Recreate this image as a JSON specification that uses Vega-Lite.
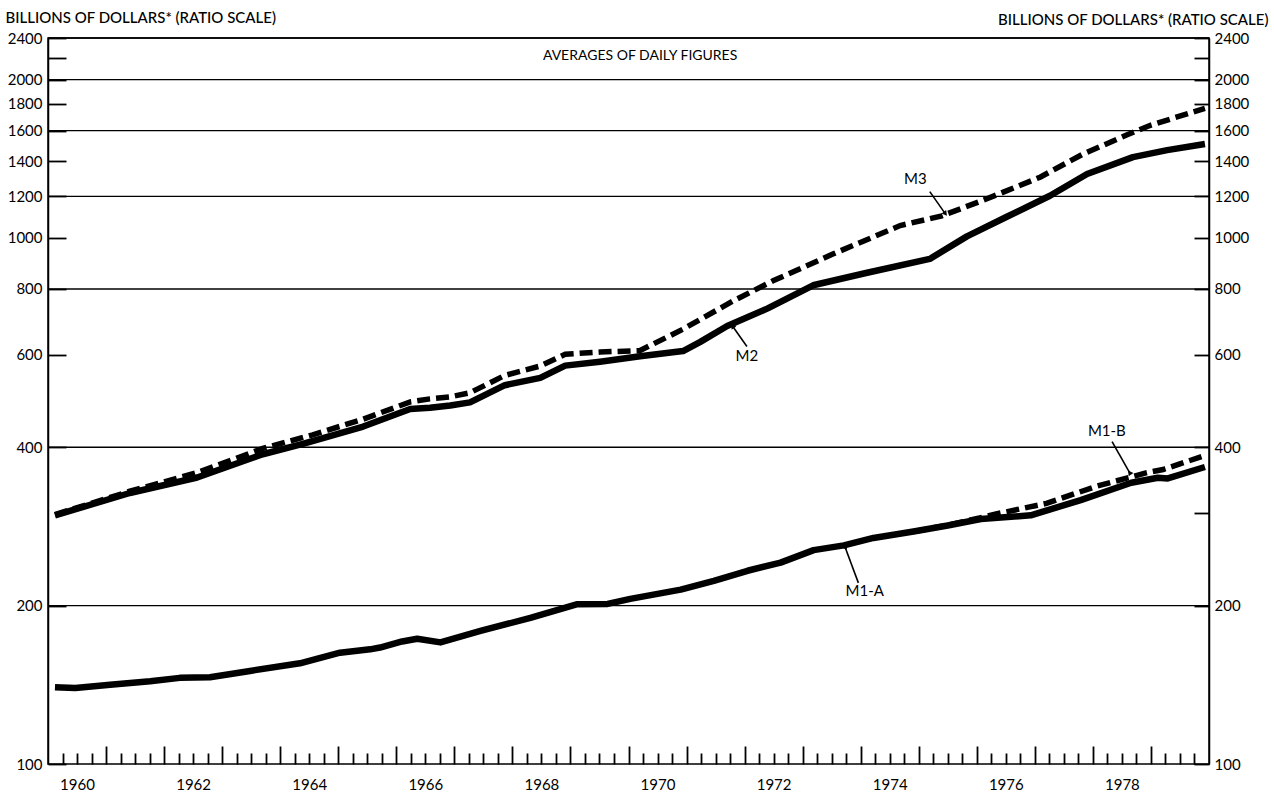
{
  "$schema": "https://vega.github.io/schema/vega-lite/v6.json",
  "width": 1161,
  "height": 726,
  "autosize": {"type": "none"},
  "padding": {"left": 48, "top": 38, "right": 65, "bottom": 29},
  "background": "white",
  "config": {
    "font": "Lato",
    "view": {"stroke": "black", "strokeWidth": 1.5},
    "axis": {
      "domainColor": "black",
      "domainWidth": 1.5,
      "tickColor": "black",
      "tickWidth": 1.8,
      "labelColor": "black",
      "labelFont": "Lato",
      "labelFontSize": 15,
      "titleColor": "black",
      "titleFont": "Lato",
      "titleFontSize": 15,
      "titleFontWeight": 500,
      "grid": false,
      "labelOverlap": false,
      "labelBound": false
    }
  },
  "datasets": {
    "grid": [
      {"value": 200}, {"value": 400}, {"value": 800}, {"value": 1200},
      {"value": 1600}, {"value": 2000}, {"value": 2400}
    ],
    "money": [
      {"series": "M1-A", "year": 1960.12, "value": 140},
      {"series": "M1-A", "year": 1960.47, "value": 139.5},
      {"series": "M1-A", "year": 1961.07, "value": 141.5},
      {"series": "M1-A", "year": 1961.76, "value": 143.7},
      {"series": "M1-A", "year": 1962.27, "value": 145.8},
      {"series": "M1-A", "year": 1962.79, "value": 146.2},
      {"series": "M1-A", "year": 1963.48, "value": 150.3},
      {"series": "M1-A", "year": 1964.34, "value": 155.4},
      {"series": "M1-A", "year": 1965.03, "value": 162.8},
      {"series": "M1-A", "year": 1965.55, "value": 165.2},
      {"series": "M1-A", "year": 1965.72, "value": 166.5},
      {"series": "M1-A", "year": 1966.1, "value": 171},
      {"series": "M1-A", "year": 1966.36, "value": 173},
      {"series": "M1-A", "year": 1966.76, "value": 170.3},
      {"series": "M1-A", "year": 1967.45, "value": 179},
      {"series": "M1-A", "year": 1968.31, "value": 189.6},
      {"series": "M1-A", "year": 1969.12, "value": 201.3},
      {"series": "M1-A", "year": 1969.64, "value": 201.5},
      {"series": "M1-A", "year": 1970.03, "value": 206},
      {"series": "M1-A", "year": 1970.9, "value": 214.5},
      {"series": "M1-A", "year": 1971.47, "value": 223},
      {"series": "M1-A", "year": 1972.05, "value": 233},
      {"series": "M1-A", "year": 1972.62, "value": 241.5},
      {"series": "M1-A", "year": 1973.19, "value": 255},
      {"series": "M1-A", "year": 1973.71, "value": 260.4},
      {"series": "M1-A", "year": 1974.22, "value": 269},
      {"series": "M1-A", "year": 1974.91, "value": 276.6},
      {"series": "M1-A", "year": 1975.5, "value": 284},
      {"series": "M1-A", "year": 1976.07, "value": 292.3},
      {"series": "M1-A", "year": 1976.93, "value": 297},
      {"series": "M1-A", "year": 1977.79, "value": 317.5},
      {"series": "M1-A", "year": 1978.66, "value": 342.5},
      {"series": "M1-A", "year": 1979.12, "value": 350},
      {"series": "M1-A", "year": 1979.29, "value": 349},
      {"series": "M1-A", "year": 1979.93, "value": 367},
      {"series": "M1-B", "year": 1974.91, "value": 276.6},
      {"series": "M1-B", "year": 1975.5, "value": 284.5},
      {"series": "M1-B", "year": 1976.07, "value": 294},
      {"series": "M1-B", "year": 1976.35, "value": 299},
      {"series": "M1-B", "year": 1977.2, "value": 313},
      {"series": "M1-B", "year": 1978.07, "value": 337.5},
      {"series": "M1-B", "year": 1978.93, "value": 358},
      {"series": "M1-B", "year": 1979.21, "value": 363},
      {"series": "M1-B", "year": 1979.93, "value": 386},
      {"series": "M2", "year": 1960.12, "value": 297},
      {"series": "M2", "year": 1961.41, "value": 327.5},
      {"series": "M2", "year": 1962.57, "value": 350.5},
      {"series": "M2", "year": 1963.7, "value": 388},
      {"series": "M2", "year": 1964.39, "value": 406},
      {"series": "M2", "year": 1965.43, "value": 438},
      {"series": "M2", "year": 1966.24, "value": 473},
      {"series": "M2", "year": 1966.58, "value": 475.5},
      {"series": "M2", "year": 1966.93, "value": 480.5},
      {"series": "M2", "year": 1967.27, "value": 487},
      {"series": "M2", "year": 1967.87, "value": 525},
      {"series": "M2", "year": 1968.48, "value": 542},
      {"series": "M2", "year": 1968.91, "value": 572},
      {"series": "M2", "year": 1969.51, "value": 582},
      {"series": "M2", "year": 1970.2, "value": 596},
      {"series": "M2", "year": 1970.94, "value": 609.5},
      {"series": "M2", "year": 1971.23, "value": 634},
      {"series": "M2", "year": 1971.7, "value": 680.5},
      {"series": "M2", "year": 1972.39, "value": 734},
      {"series": "M2", "year": 1973.18, "value": 813},
      {"series": "M2", "year": 1974.11, "value": 859},
      {"series": "M2", "year": 1975.19, "value": 912.5},
      {"series": "M2", "year": 1975.83, "value": 1007},
      {"series": "M2", "year": 1976.5, "value": 1095},
      {"series": "M2", "year": 1977.26, "value": 1203},
      {"series": "M2", "year": 1977.9, "value": 1323},
      {"series": "M2", "year": 1978.69, "value": 1425},
      {"series": "M2", "year": 1979.28, "value": 1469},
      {"series": "M2", "year": 1979.93, "value": 1509},
      {"series": "M3", "year": 1960.12, "value": 298},
      {"series": "M3", "year": 1961.41, "value": 330},
      {"series": "M3", "year": 1962.57, "value": 358},
      {"series": "M3", "year": 1963.7, "value": 398},
      {"series": "M3", "year": 1964.56, "value": 422.5},
      {"series": "M3", "year": 1965.43, "value": 452.5},
      {"series": "M3", "year": 1966.24, "value": 488},
      {"series": "M3", "year": 1966.58, "value": 494.5},
      {"series": "M3", "year": 1966.93, "value": 499},
      {"series": "M3", "year": 1967.27, "value": 508},
      {"series": "M3", "year": 1967.87, "value": 548},
      {"series": "M3", "year": 1968.48, "value": 571},
      {"series": "M3", "year": 1968.91, "value": 601},
      {"series": "M3", "year": 1969.51, "value": 607},
      {"series": "M3", "year": 1970.2, "value": 611},
      {"series": "M3", "year": 1970.94, "value": 671},
      {"series": "M3", "year": 1971.8, "value": 759},
      {"series": "M3", "year": 1972.49, "value": 829},
      {"series": "M3", "year": 1973.52, "value": 932},
      {"series": "M3", "year": 1974.68, "value": 1056},
      {"series": "M3", "year": 1975.4, "value": 1102},
      {"series": "M3", "year": 1976.11, "value": 1180},
      {"series": "M3", "year": 1976.4, "value": 1215},
      {"series": "M3", "year": 1977.09, "value": 1305},
      {"series": "M3", "year": 1977.83, "value": 1444},
      {"series": "M3", "year": 1978.59, "value": 1571},
      {"series": "M3", "year": 1978.98, "value": 1636},
      {"series": "M3", "year": 1979.55, "value": 1712},
      {"series": "M3", "year": 1979.93, "value": 1764}
    ],
    "labels": [
      {"label": "M3", "year": 1974.94, "value": 1296},
      {"label": "M2", "year": 1972.04, "value": 596},
      {"label": "M1-A", "year": 1974.07, "value": 213},
      {"label": "M1-B", "year": 1978.24, "value": 430}
    ],
    "arrows": [
      {"label": "M3", "year": 1975.19, "value": 1225, "year2": 1975.45, "value2": 1115},
      {"label": "M2", "year": 1972.04, "value": 622, "year2": 1971.8, "value2": 678},
      {"label": "M1-A", "year": 1973.96, "value": 221, "year2": 1973.73, "value2": 258.5},
      {"label": "M1-B", "year": 1978.33, "value": 410, "year2": 1978.64, "value2": 357}
    ],
    "note": [
      {"text": "AVERAGES OF DAILY FIGURES", "year": 1970.2, "value": 2220}
    ]
  },
  "layer": [
    {
      "data": {"name": "grid"},
      "mark": {"type": "rule", "color": "black", "strokeWidth": 1.4},
      "encoding": {
        "y": {"field": "value", "type": "quantitative", "scale": {"type": "log", "domain": [100, 2400], "nice": false}, "axis": null}
      }
    },
    {
      "data": {"name": "money"},
      "transform": [{"filter": "datum.series == 'M2' || datum.series == 'M1-A'"}],
      "mark": {"type": "line", "color": "black", "strokeWidth": 6.5, "strokeJoin": "round", "strokeCap": "butt"},
      "encoding": {
        "x": {
          "field": "year", "type": "quantitative",
          "scale": {"domain": [1960, 1980], "nice": false, "zero": false},
          "axis": {
            "orient": "bottom",
            "title": null,
            "domain": false,
            "values": [1960.25, 1960.5, 1960.75, 1961.25, 1961.5, 1961.75, 1962.25, 1962.5, 1962.75, 1963.25, 1963.5, 1963.75, 1964.25, 1964.5, 1964.75, 1965.25, 1965.5, 1965.75, 1966.25, 1966.5, 1966.75, 1967.25, 1967.5, 1967.75, 1968.25, 1968.5, 1968.75, 1969.25, 1969.5, 1969.75, 1970.25, 1970.5, 1970.75, 1971.25, 1971.5, 1971.75, 1972.25, 1972.5, 1972.75, 1973.25, 1973.5, 1973.75, 1974.25, 1974.5, 1974.75, 1975.25, 1975.5, 1975.75, 1976.25, 1976.5, 1976.75, 1977.25, 1977.5, 1977.75, 1978.25, 1978.5, 1978.75, 1979.25, 1979.5, 1979.75],
            "labelExpr": "datum.value % 2 == 0.5 ? floor(datum.value) : ''",
            "tickSize": -11,
            "labelPadding": 24,
            "labelFontSize": 15
          }
        },
        "y": {
          "field": "value", "type": "quantitative",
          "scale": {"type": "log", "domain": [100, 2400], "nice": false},
          "axis": {
            "orient": "left",
            "values": [100, 200, 400, 600, 800, 1000, 1200, 1400, 1600, 1800, 2000, 2200, 2400],
            "labelExpr": "datum.value == 2200 ? '' : format(datum.value, 'd')",
            "tickSize": -18,
            "labelPadding": 24,
            "title": "BILLIONS OF DOLLARS* (RATIO SCALE)",
            "titleAngle": 0,
            "titleAlign": "left",
            "titleBaseline": "alphabetic",
            "titleX": -43,
            "titleY": -16
          }
        },
        "detail": {"field": "series"}
      }
    },
    {
      "data": {"name": "money"},
      "transform": [{"filter": "datum.series == 'M3' || datum.series == 'M1-B'"}],
      "mark": {"type": "line", "color": "black", "strokeWidth": 5.5, "strokeDash": [13, 6], "strokeJoin": "miter", "strokeCap": "butt"},
      "encoding": {
        "x": {
          "field": "year", "type": "quantitative",
          "axis": {
            "orient": "bottom",
            "title": null,
            "domain": false,
            "labels": false,
            "values": [1961, 1962, 1963, 1964, 1965, 1966, 1967, 1968, 1969, 1970, 1971, 1972, 1973, 1974, 1975, 1976, 1977, 1978, 1979],
            "tickSize": -18
          }
        },
        "y": {
          "field": "value", "type": "quantitative",
          "scale": {"type": "log", "domain": [100, 2400], "nice": false},
          "axis": {
            "orient": "right",
            "values": [100, 200, 300, 400, 600, 800, 1000, 1200, 1400, 1600, 1800, 2000, 2200, 2400],
            "labelExpr": "(datum.value == 2200 || datum.value == 300) ? '' : format(datum.value, 'd')",
            "tickSize": -15,
            "labelPadding": 20,
            "title": "BILLIONS OF DOLLARS* (RATIO SCALE)",
            "titleAngle": 0,
            "titleAlign": "right",
            "titleBaseline": "alphabetic",
            "titleX": 59,
            "titleY": -14
          }
        },
        "detail": {"field": "series"}
      }
    },
    {
      "data": {"name": "labels"},
      "mark": {"type": "text", "font": "Lato", "fontSize": 15, "color": "black", "align": "center", "baseline": "middle"},
      "encoding": {
        "x": {"field": "year", "type": "quantitative", "axis": null},
        "y": {"field": "value", "type": "quantitative", "axis": null},
        "text": {"field": "label"}
      }
    },
    {
      "data": {"name": "arrows"},
      "mark": {"type": "rule", "color": "black", "strokeWidth": 1.6},
      "encoding": {
        "x": {"field": "year", "type": "quantitative", "axis": null},
        "y": {"field": "value", "type": "quantitative", "axis": null},
        "x2": {"field": "year2"},
        "y2": {"field": "value2"}
      }
    },
    {
      "data": {"name": "arrows"},
      "mark": {"type": "point", "shape": "triangle", "filled": true, "color": "black", "opacity": 1, "size": 34},
      "encoding": {
        "x": {"field": "year2", "type": "quantitative", "axis": null},
        "y": {"field": "value2", "type": "quantitative", "axis": null},
        "angle": {"field": "label", "type": "nominal", "scale": {"domain": ["M3", "M2", "M1-A", "M1-B"], "range": [143, 325, 327, 151]}, "legend": null}
      }
    },
    {
      "data": {"name": "note"},
      "mark": {"type": "text", "font": "Lato", "fontSize": 14, "color": "black", "align": "center", "baseline": "middle"},
      "encoding": {
        "x": {"field": "year", "type": "quantitative", "axis": null},
        "y": {"field": "value", "type": "quantitative", "axis": null},
        "text": {"field": "text"}
      }
    }
  ],
  "resolve": {"axis": {"x": "independent", "y": "independent"}}
}
